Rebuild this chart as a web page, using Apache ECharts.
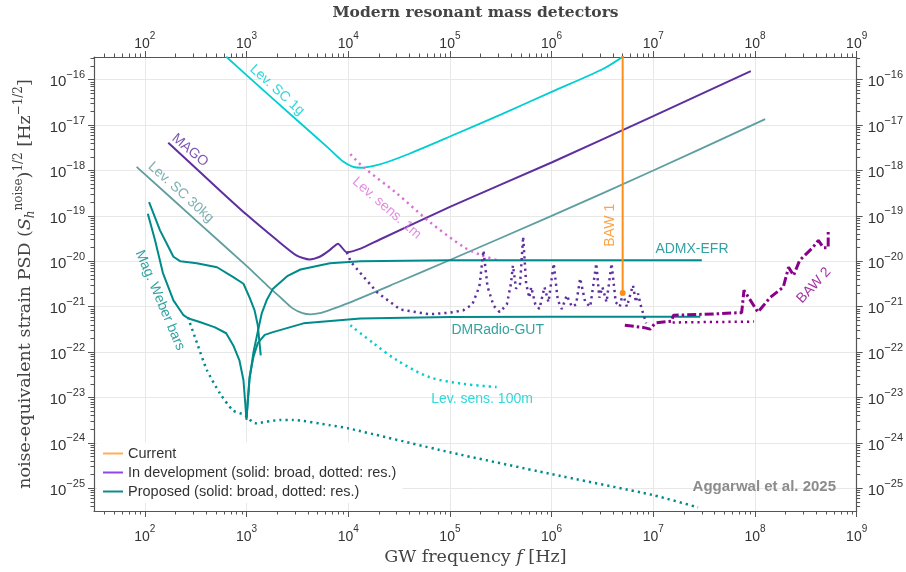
<!DOCTYPE html>
<html>
<head>
<meta charset="utf-8">
<title>Modern resonant mass detectors</title>
<script src="https://cdn.jsdelivr.net/npm/echarts@6/dist/echarts.min.js"></script>
<style>
  html, body { margin: 0; padding: 0; background: #fff; }
  #chart { width: 906px; height: 572px; }
</style>
</head>
<body>
<div id="chart"></div>
<script>
// frequency [Hz], strain PSD [Hz^-1/2] pairs
const levSC1g = [[631,3.2e-16],[1000,1.26e-16],[3160,1.26e-17],[6310,3.2e-18],[8910,1.58e-18],[11200,1.2e-18],[13500,1.15e-18],[17800,1.26e-18],[25100,1.58e-18],[39800,2.34e-18],[1e5,5.6e-18],[3.16e5,1.7e-17],[1e6,5.4e-17],[3.16e6,1.7e-16],[5.1e6,3.3e-16]];
const mago = [[170,4.1e-18],[550,3.6e-19],[1000,1.07e-19],[2000,2.9e-20],[3090,1.35e-20],[4170,1.1e-20],[5250,1.26e-20],[6610,1.78e-20],[7940,2.45e-20],[9660,1.58e-20],[13200,1.9e-20],[20000,2.95e-20],[1e5,1.58e-19],[1e6,1.5e-18],[1e7,1.58e-17],[9.1e7,1.55e-16]];
const levSC30kg = [[83,1.2e-18],[316,8.1e-20],[1000,7.9e-21],[1580,3.0e-21],[2240,1.48e-21],[2820,9.3e-22],[3550,7.2e-22],[4270,6.8e-22],[5250,7.2e-22],[6610,8.5e-22],[1e4,1.2e-21],[31600,3.55e-21],[1e5,1.07e-20],[1e6,1e-19],[1e7,1e-18],[1.26e8,1.35e-17]];
const levSens1m = [[10500,2.3e-18],[13500,1.29e-18],[30200,3.1e-19],[63100,7.4e-20],[135000,2.1e-20],[200000,1.38e-20],[288000,1.07e-20]];
const levSens100m = [[10500,3.9e-22],[17800,1.55e-22],[30200,6.6e-23],[63100,2.8e-23],[135000,2.0e-23],[288000,1.7e-23]];
const weberBroad = [[107,1.12e-19],[126,2.9e-20],[151,5.4e-21],[191,1.38e-21],[240,6.5e-22],[269,5.5e-22],[347,4.6e-22],[490,3.5e-22],[631,2.6e-22],[741,1.4e-22],[851,6.6e-23],[933,2.4e-23],[1000,3.2e-24]];
const weberRes = [[265,5.9e-22],[326,1.58e-22],[408,4.0e-23],[548,1.23e-23],[735,5.2e-24],[966,4.1e-24],[1210,2.7e-24],[2130,3.2e-24],[2860,3.2e-24],[6610,2.45e-24],[9930,2.1e-24],[1e5,6.2e-25],[955000,2.1e-25],[9.9e6,7.1e-26],[2.75e7,3.8e-26]];
const lowFreqBroad = [[110,2.0e-19],[141,4.8e-20],[191,1.26e-20],[224,1.0e-20],[324,9.1e-21],[513,7.4e-21],[741,4.5e-21],[933,3.2e-21],[1070,1.6e-21],[1200,8.3e-22],[1290,3.9e-22],[1380,8.5e-23]];
const admxEfr = [[1000,3.5e-24],[1070,2.5e-23],[1170,1.0e-22],[1290,2.8e-22],[1410,7.1e-22],[1580,1.4e-21],[1820,2.5e-21],[2510,4.7e-21],[3390,6.6e-21],[6610,9.1e-21],[13200,1.0e-20],[1e5,1.05e-20],[3.0e7,1.05e-20]];
const dmRadioGut = [[1000,3.5e-24],[1070,2.8e-23],[1170,7.9e-23],[1290,1.58e-22],[1510,2.4e-22],[1820,2.75e-22],[3630,4.3e-22],[13200,5.5e-22],[1e5,5.9e-22],[1e6,6.0e-22],[2.9e7,6.0e-22]];
const devRes = [[9660,1.58e-20],[10700,9.5e-21],[19100,2.1e-21],[32400,8.7e-22],[63100,6.8e-22],[1e5,7.4e-22],[135000,8.3e-22],[166000,1.12e-21],[195000,2.8e-21],[214000,1.74e-20],[234000,2.8e-21],[269000,1.05e-21],[309000,7.6e-22],[363000,1.12e-21],[398000,3.2e-21],[417000,8.1e-21],[447000,2.5e-21],[490000,3.2e-21],[525000,3.5e-20],[562000,3.2e-21],[603000,1.58e-21],[631000,2.7e-21],[692000,1.12e-21],[759000,8.9e-22],[851000,2.7e-21],[933000,1.26e-21],[1.05e6,8.9e-21],[1.15e6,1.4e-21],[1.26e6,8.9e-22],[1.41e6,1.78e-21],[1.58e6,1.0e-21],[1.74e6,1.12e-21],[1.91e6,4.2e-21],[2.14e6,1.26e-21],[2.4e6,1.0e-21],[2.75e6,8.9e-21],[2.95e6,1.58e-21],[3.16e6,2.7e-21],[3.47e6,1.26e-21],[3.89e6,8.9e-21],[4.27e6,1.26e-21],[4.68e6,1.0e-21],[5.01e6,1.95e-21],[5.5e6,1.0e-21],[6.31e6,2.95e-21],[6.76e6,1.26e-21],[7.08e6,1.95e-21],[7.59e6,1.0e-21],[8.51e6,4.3e-22]];
const baw1 = [[5.0e6,2.0e-21],[5.0e6,1e-15]];
const baw2 = [[5.25e6,3.9e-22],[7.94e6,3.5e-22],[9.3e6,3.2e-22],[1.05e7,4.4e-22],[1.51e7,4.8e-22],[1.58e7,6.5e-22],[3.16e7,6.8e-22],[7.4e7,7.4e-22],[7.8e7,2.3e-21],[1.07e8,7.6e-22],[1.41e8,1.6e-21],[1.9e8,2.7e-21],[2.14e8,7.4e-21],[2.4e8,4.9e-21],[2.75e8,1.05e-20],[3.7e8,2.0e-20],[4.2e8,2.9e-20],[4.7e8,2.0e-20],[5.25e8,2.0e-20],[5.25e8,4.4e-20]];
const baw2Res = [[1.55e7,4.5e-22],[9.8e7,4.7e-22]];

// tick labels: powers of ten
const xTickExp = [2, 3, 4, 5, 6, 7, 8, 9];
const yTickExp = [-25, -24, -23, -22, -21, -20, -19, -18, -17, -16];

const X_MIN = Math.pow(10, 1.5), X_MAX = 1e9;
const Y_MIN = Math.pow(10, -25.5), Y_MAX = Math.pow(10, -15.5);

const CYAN = '#00CED1', PURPLE = '#5e2f9e', CADET = '#5F9EA0', TEAL = '#008B8B';
const ORCHID = '#DA70D6', ORANGE = '#fb8f1a', MAGENTA = '#8B008B';
const FONT = '"Liberation Sans", Arial, sans-serif';
const SERIF = '"DejaVu Serif", serif';

const xMajor = xTickExp.map(e => Math.pow(10, e));
const yMajor = yTickExp.map(e => Math.pow(10, e));
function minorTicks(lo, hi, min, max) {
  const out = [];
  for (let e = lo; e <= hi; e++) {
    for (let k = 2; k <= 9; k++) {
      const v = Number((k * Math.pow(10, e)).toPrecision(3));
      if (v > min && v < max) out.push(v);
    }
  }
  return out;
}
const xMinor = minorTicks(1, 8, X_MIN, X_MAX);
const yMinor = minorTicks(-26, -16, Y_MIN, Y_MAX);

function expLabel(v) {
  const e = Math.round(Math.log10(v));
  return '{b|10}{s|' + String(e).replace('-', '\u2212') + '}';
}
function tickRich(base, sup) {
  return {
    b: { fontSize: base, fontFamily: FONT, color: '#333', lineHeight: 20, verticalAlign: 'bottom' },
    s: { fontSize: sup, fontFamily: FONT, color: '#333', lineHeight: 10, verticalAlign: 'top' }
  };
}

function axis(pos, ticks, len, labels, margin) {
  const horiz = pos === 'top' || pos === 'bottom';
  return {
    type: 'log', logBase: 10, position: pos,
    min: horiz ? X_MIN : Y_MIN,
    max: horiz ? X_MAX : Y_MAX,
    axisLine: { show: labels, onZero: false, lineStyle: { color: '#555', width: 1.2 } },
    axisTick: { show: true, customValues: ticks, length: len, lineStyle: { color: '#555', width: 1 } },
    axisLabel: { show: labels, customValues: ticks, formatter: expLabel,
      rich: horiz ? tickRich(14, 10) : tickRich(15, 11), margin: margin || 8 },
    splitLine: { show: labels && (pos === 'bottom' || pos === 'left'), lineStyle: { color: '#e8e8e8', width: 1 } },
    minorTick: { show: false },
    minorSplitLine: { show: false }
  };
}

const xAxes = [axis('bottom', xMajor, 6, true, 13), axis('bottom', xMinor, 3.5, false), axis('top', xMajor, 6, true, 6), axis('top', xMinor, 3.5, false)];
Object.assign(xAxes[0], {
  name: '{t|GW frequency }{i|f}{t| [Hz]}', nameLocation: 'middle', nameGap: 34,
  nameTextStyle: { rich: {
    t: { fontFamily: SERIF, fontSize: 17.5, color: '#444' },
    i: { fontFamily: SERIF, fontSize: 17.5, fontStyle: 'italic', color: '#444' }
  } }
});
const yAxes = [axis('left', yMajor, 6, true, 9), axis('left', yMinor, 3.5, false), axis('right', yMajor, 6, true, 11), axis('right', yMinor, 3.5, false)];
Object.assign(yAxes[0], {
  name: '{t|noise-equivalent strain PSD }{t|(}{it|S}{sb|h}{sp|noise}{t|)}{sp|1/2}{t| [Hz}{sp|\u22121/2}{t|]}',
  nameLocation: 'middle', nameGap: 57, nameRotate: 90,
  nameTextStyle: { rich: {
    t: { fontFamily: SERIF, fontSize: 17.5, color: '#444', lineHeight: 24, verticalAlign: 'middle' },
    it: { fontFamily: SERIF, fontSize: 17.5, fontStyle: 'italic', color: '#444', lineHeight: 24, verticalAlign: 'middle' },
    sp: { fontFamily: SERIF, fontSize: 12, color: '#444', lineHeight: 11, verticalAlign: 'top' },
    sb: { fontFamily: SERIF, fontSize: 12, fontStyle: 'italic', color: '#444', lineHeight: 11, verticalAlign: 'bottom' }
  } }
});

function curve(data, color, width, dash, extra) {
  return Object.assign({
    type: 'line', data: data, symbol: 'none', silent: true, z: 3,
    lineStyle: { color: color, width: width, type: dash || 'solid', cap: 'butt' },
    itemStyle: { color: color }
  }, extra || {});
}
const DOT = [2.2, 4];

const annotations = [
  { text: 'Lev. SC 1g', at: [2000, 5.9e-17], rotate: -42, color: CYAN },
  { text: 'MAGO', at: [278, 2.8e-18], rotate: -40, color: PURPLE },
  { text: 'Lev. SC 30kg', at: [226, 3.3e-19], rotate: -42, color: CADET },
  { text: 'Mag. Weber bars', at: [141, 1.38e-21], rotate: -67, color: TEAL },
  { text: 'Lev. sens. 1m', at: [24000, 1.48e-19], rotate: -41, color: ORCHID },
  { text: 'Lev. sens. 100m', at: [2.07e5, 9.1e-24], rotate: 0, color: CYAN },
  { text: 'DMRadio-GUT', at: [2.95e5, 3.0e-22], rotate: 0, color: TEAL },
  { text: 'ADMX-EFR', at: [2.4e7, 1.82e-20], rotate: 0, color: TEAL },
  { text: 'BAW 1', at: [3.75e6, 6.2e-20], rotate: 90, color: ORANGE },
  { text: 'BAW 2', at: [3.8e8, 2.95e-21], rotate: 47, color: MAGENTA }
];

const legendItems = [
  { name: 'Current', color: '#ffae50' },
  { name: 'In development (solid: broad, dotted: res.)', color: '#9146ec' },
  { name: 'Proposed (solid: broad, dotted: res.)', color: '#0f8b8d' }
];

const series = [
  curve(levSC1g, CYAN, 1.8, 'solid', { smooth: 0.3 }),
  curve(levSC30kg, CADET, 1.8, 'solid', { smooth: 0.3 }),
  curve(mago, PURPLE, 2, 'solid', { smooth: 0.2 }),
  curve(levSens1m, ORCHID, 2.5, DOT, { smooth: 0.3 }),
  curve(levSens100m, CYAN, 2.5, DOT, { smooth: 0.3 }),
  curve(weberBroad, TEAL, 2),
  curve(weberRes, TEAL, 2.5, DOT, { smooth: 0.2 }),
  curve(lowFreqBroad, TEAL, 2),
  curve(admxEfr, TEAL, 2),
  curve(dmRadioGut, TEAL, 2),
  curve(devRes, PURPLE, 2.5, DOT),
  curve(baw2Res, MAGENTA, 2.5, DOT),
  curve(baw2, MAGENTA, 3, [9, 3, 2.5, 3]),
  curve(baw1, ORANGE, 2, 'solid', {
    symbol: 'circle', symbolSize: 6, showSymbol: true,
    data: [{ value: baw1[0] }, { value: baw1[1], symbol: 'none' }], z: 4
  }),
  {
    type: 'scatter', silent: true, symbolSize: 0, z: 6,
    data: annotations.map(a => ({
      value: a.at,
      label: { show: true, position: 'inside', formatter: a.text, rotate: a.rotate, color: a.color, fontSize: 14, fontFamily: FONT }
    }))
  }
].concat(legendItems.map(it => ({
  name: it.name, type: 'line', data: [], symbol: 'none',
  lineStyle: { color: it.color, width: 2 }, itemStyle: { color: it.color }
})));

const chart = echarts.init(document.getElementById('chart'), null, { renderer: 'canvas' });
chart.setOption({
  animation: false,
  backgroundColor: '#fff',
  grid: { left: 94, right: 49, top: 57, bottom: 61, containLabel: false },
  xAxis: xAxes,
  yAxis: yAxes,
  legend: {
    orient: 'vertical', left: 97, top: 442, padding: [4, 6],
    backgroundColor: 'rgba(255,255,255,0.92)',
    icon: 'path://M0,0L20,0L20,2L0,2Z',
    itemWidth: 20, itemHeight: 14, itemGap: 4, selectedMode: false,
    textStyle: { fontSize: 14.5, color: '#333', fontFamily: FONT },
    data: legendItems.map(it => it.name)
  },
  graphic: [
    {
      type: 'text', x: 475.5, y: 13, silent: true,
      style: { text: 'Modern resonant mass detectors', font: 'bold 15.5px "DejaVu Serif", serif', fill: '#444',
        align: 'center', textAlign: 'center', verticalAlign: 'middle', textVerticalAlign: 'middle' }
    },
    {
      type: 'text', x: 836, y: 487, silent: true, z: 10,
      style: { text: 'Aggarwal et al. 2025', font: 'bold 15px "Liberation Sans", Arial, sans-serif', fill: '#8c8c8c',
        align: 'right', textAlign: 'right', verticalAlign: 'middle', textVerticalAlign: 'middle' }
    }
  ],
  series: series
});
</script>
</body>
</html>
